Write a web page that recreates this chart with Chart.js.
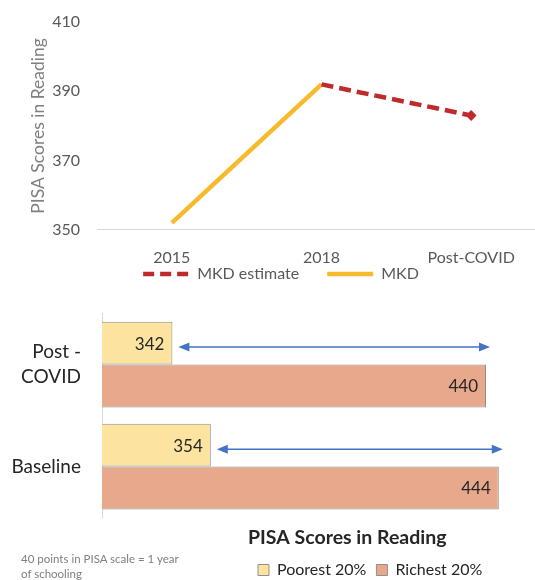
<!DOCTYPE html>
<html>
<head>
<meta charset="utf-8">
<script src="https://cdn.jsdelivr.net/npm/chart.js@4.4.1/dist/chart.umd.min.js"></script>
<style>
  html, body { margin: 0; padding: 0; background: #fff; overflow: hidden; }
  #wrap { position: relative; width: 535px; height: 580px; overflow: hidden; }
  #top { position: absolute; left: 0; top: 0; width: 546px; height: 292px; }
  #bot { position: absolute; left: 0; top: 290px; width: 535px; height: 290px; }
  #note { position: absolute; left: 21px; top: 551px; width: 162px; font: 11.5px Lato, "Open Sans", sans-serif; color: #7f7f7f; line-height: 15px; }
</style>
</head>
<body>
<div id="wrap">
  <div id="top"><canvas id="c1"></canvas></div>
  <div id="bot"><canvas id="c2"></canvas></div>
  <div id="note">40 points in PISA scale = 1 year of schooling</div>
</div>
<script>
// ---- Line chart data ----
const lineCategories = ['2015', '2018', 'Post-COVID'];
const mkdValues = [352, 392, null];
const mkdEstimateValues = [null, 392, 383];
const lineTicks = [350, 370, 390, 410];

// ---- Bar chart data ----
const barCategories = [['Post -', 'COVID'], 'Baseline'];
const poorestValues = [342, 354];
const richestValues = [440, 444];

const FONT = 'Lato, "Open Sans", sans-serif';

const topLegendShift = {
  id: 'topLegendShift',
  afterLayout(chart) {
    const lg = chart.legend;
    if (lg) { lg.top -= 47; lg.bottom -= 47; lg.left += 8; lg.right += 8; }
  }
};

new Chart(document.getElementById('c1'), {
  type: 'line',
  data: {
    labels: lineCategories,
    datasets: [
      {
        label: 'MKD estimate',
        data: mkdEstimateValues,
        borderColor: '#BF2A2C',
        backgroundColor: '#BF2A2C',
        borderWidth: 4.5,
        borderDash: [12, 6],
        pointRadius: [0, 0, 4],
        pointStyle: 'rectRot',
        pointBorderWidth: 2,
        fill: false,
        tension: 0
      },
      {
        label: 'MKD',
        data: mkdValues,
        borderColor: '#F6BA2C',
        backgroundColor: '#F6BA2C',
        borderWidth: 4.5,
        pointRadius: 0,
        fill: false,
        tension: 0
      }
    ]
  },
  options: {
    responsive: true,
    maintainAspectRatio: false,
    animation: false,
    layout: { autoPadding: false, padding: { left: 0, right: 0, top: 22, bottom: -47 } },
    plugins: {
      tooltip: { enabled: false },
      legend: {
        position: 'bottom',
        labels: {
          usePointStyle: true,
          pointStyle: 'line',
          pointStyleWidth: 46,
          padding: 28,
          color: '#595959',
          font: { family: FONT, size: 16 },
          generateLabels(chart) {
            const items = Chart.defaults.plugins.legend.labels.generateLabels(chart);
            items.forEach(it => {
              const ds = chart.data.datasets[it.datasetIndex];
              it.strokeStyle = ds.borderColor;
              it.fillStyle = ds.borderColor;
              it.lineWidth = 4.5;
              it.lineDash = ds.borderDash ? [11, 6] : [];
              it.pointStyle = 'line';
            });
            return items;
          }
        }
      }
    },
    scales: {
      x: {
        offset: true,
        grid: { display: false, drawTicks: false },
        border: { display: true, color: '#d9d9d9', width: 1 },
        ticks: { color: '#595959', font: { family: FONT, size: 16 }, padding: 18 }
      },
      y: {
        min: 350,
        max: 410,
        afterBuildTicks: (axis) => { axis.ticks = lineTicks.map(v => ({ value: v })); },
        afterFit: (axis) => { axis.width = 97; axis.paddingTop = 0; axis.paddingBottom = 0; },
        grid: { display: false, drawTicks: false },
        border: { display: false },
        ticks: { color: '#595959', font: { family: FONT, size: 16 }, padding: 17 },
        title: { display: true, text: 'PISA Scores in Reading', color: '#808080', font: { family: FONT, size: 17.5 }, padding: { top: 28, bottom: 0 } }
      }
    }
  },
  plugins: [topLegendShift]
});

const barLabelsPlugin = {
  id: 'barLabels',
  afterDatasetsDraw(chart) {
    const ctx = chart.ctx;
    const xs = chart.scales.x;
    ctx.save();
    ctx.font = '17px ' + FONT;
    ctx.fillStyle = '#262626';
    ctx.textAlign = 'right';
    ctx.textBaseline = 'middle';
    chart.data.datasets.forEach((ds, di) => {
      chart.getDatasetMeta(di).data.forEach((bar, i) => {
        ctx.fillText(String(ds.data[i]), bar.x - 8, bar.y + 1);
      });
    });
    const poorMeta = chart.getDatasetMeta(0).data;
    ctx.strokeStyle = '#4472C4';
    ctx.fillStyle = '#4472C4';
    ctx.lineWidth = 1.5;
    poorMeta.forEach((bar, i) => {
      const x1 = xs.getPixelForValue(poorestValues[i]) + 6;
      const x2 = xs.getPixelForValue(richestValues[i]) + 4;
      const y = bar.y + 4;
      const hl = 11, hw = 4.5;
      ctx.beginPath();
      ctx.moveTo(x1 + hl - 2, y);
      ctx.lineTo(x2 - hl + 2, y);
      ctx.stroke();
      ctx.beginPath();
      ctx.moveTo(x1, y); ctx.lineTo(x1 + hl, y - hw); ctx.lineTo(x1 + hl, y + hw); ctx.closePath(); ctx.fill();
      ctx.beginPath();
      ctx.moveTo(x2, y); ctx.lineTo(x2 - hl, y - hw); ctx.lineTo(x2 - hl, y + hw); ctx.closePath(); ctx.fill();
    });
    ctx.restore();
  }
};

const legendShiftPlugin = {
  id: 'legendShift',
  afterLayout(chart) {
    const lg = chart.legend;
    if (lg) { const w = lg.right - lg.left; lg.left = 248; lg.right = 248 + w; }
  }
};

new Chart(document.getElementById('c2'), {
  type: 'bar',
  data: {
    labels: barCategories,
    datasets: [
      {
        label: 'Poorest 20%',
        data: poorestValues,
        backgroundColor: '#FCE4A0',
        borderColor: '#8f8f8f',
        borderWidth: 1,
        borderSkipped: false,
        categoryPercentage: 0.84,
        barPercentage: 1.0
      },
      {
        label: 'Richest 20%',
        data: richestValues,
        backgroundColor: '#E8A88C',
        borderColor: '#8f8f8f',
        borderWidth: 1,
        borderSkipped: false,
        categoryPercentage: 0.84,
        barPercentage: 1.0
      }
    ]
  },
  options: {
    indexAxis: 'y',
    responsive: true,
    maintainAspectRatio: false,
    animation: false,
    layout: { padding: { left: 0, right: 17, top: 23.5, bottom: -8 } },
    plugins: {
      tooltip: { enabled: false },
      legend: {
        position: 'bottom',
        align: 'start',
        title: {
          display: true,
          position: 'start',
          text: 'PISA Scores in Reading',
          color: '#262626',
          font: { family: FONT, size: 19.5, weight: 'bold' },
          padding: { top: 10, bottom: 1 }
        },
        labels: {
          boxWidth: 11,
          boxHeight: 11,
          padding: 10,
          color: '#262626',
          font: { family: FONT, size: 16 }
        }
      }
    },
    scales: {
      x: {
        min: 320,
        max: 450,
        display: false
      },
      y: {
        afterFit: (axis) => { axis.width = 102; axis.paddingTop = 0; axis.paddingBottom = 0; },
        grid: { display: false, drawTicks: false },
        border: { display: true, color: '#d9d9d9' },
        ticks: { color: '#262626', font: { family: FONT, size: 19, lineHeight: 1.35 }, padding: 21 }
      }
    }
  },
  plugins: [barLabelsPlugin, legendShiftPlugin]
});
</script>
</body>
</html>
